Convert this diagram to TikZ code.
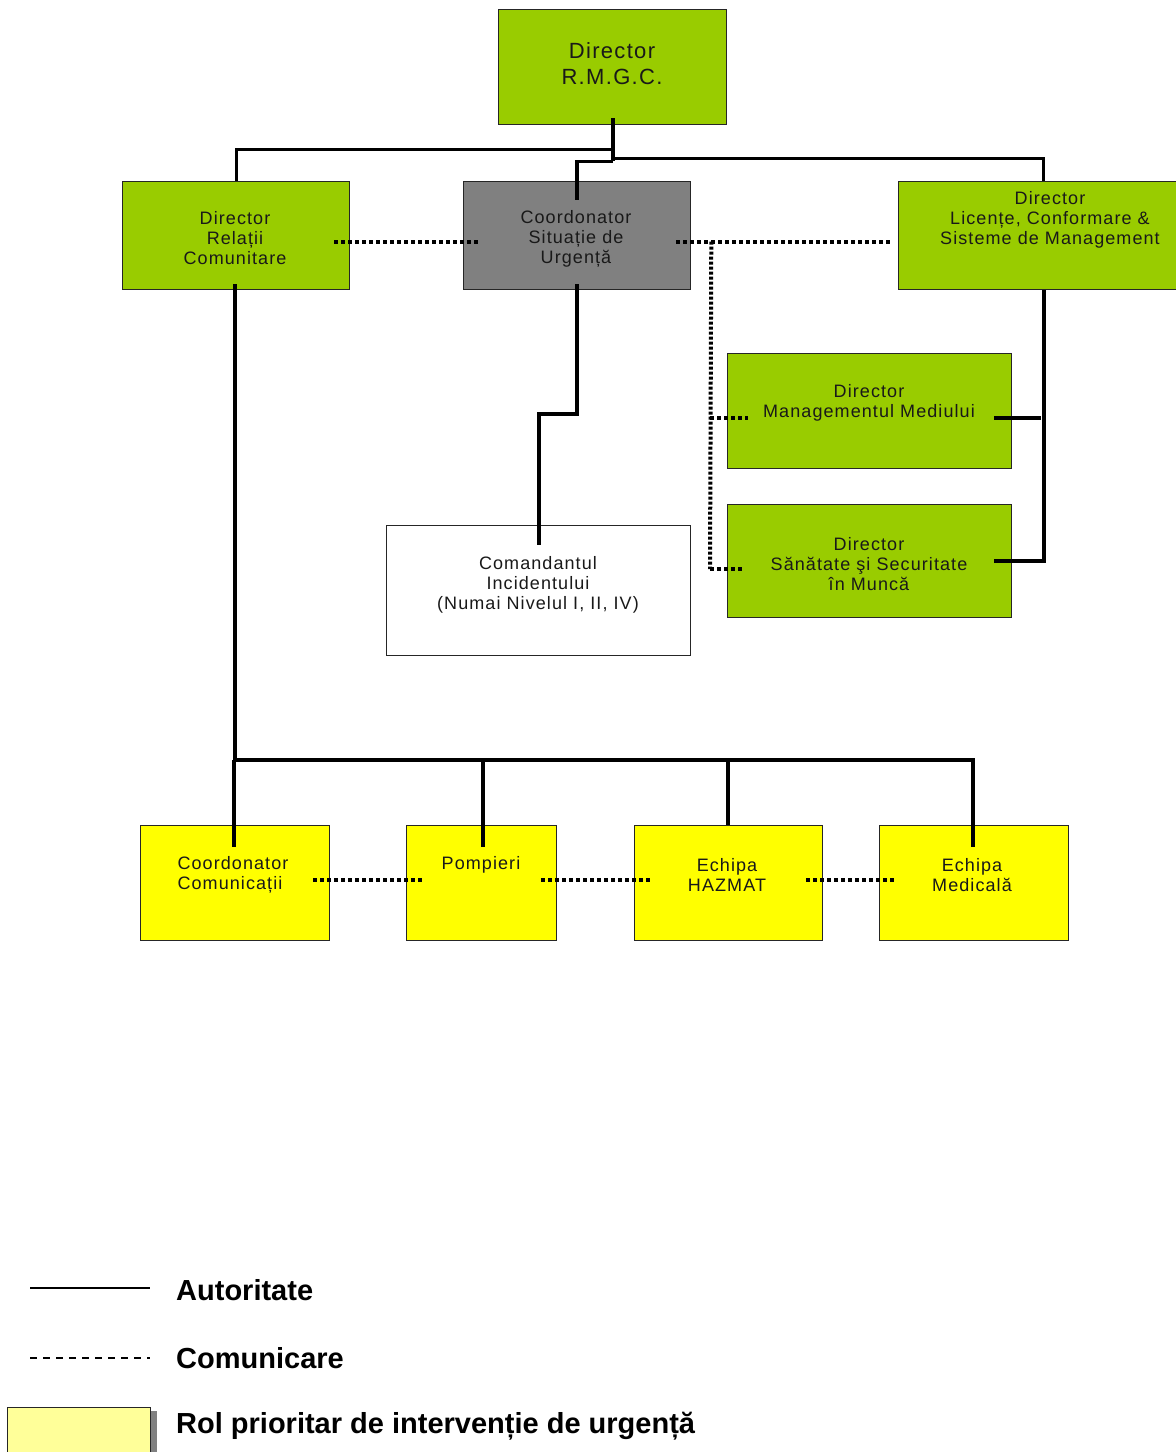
\documentclass[tikz,border=0pt]{standalone}
\usepackage{fontspec}
\setmainfont{Liberation Sans}
\newfontfamily\boxfont[LetterSpace=6]{Liberation Sans}
\definecolor{dirgreen}{HTML}{99CC00}
\definecolor{urggray}{HTML}{808080}
\definecolor{teamyellow}{HTML}{FFFF00}
\definecolor{legyellow}{HTML}{FFFF99}

\begin{document}
\begin{tikzpicture}[x=1pt,y=-1pt,
  box/.style={draw=black!85, line width=1.3pt, anchor=north west, inner sep=0pt},
  txt/.style={align=center, inner sep=0pt, text=black!90,
    font=\boxfont\fontsize{18}{20}\selectfont},
  auth/.style={line width=4pt},
  comm/.style={line width=4pt, dash pattern=on 3.5pt off 3.5pt},
  legtxt/.style={anchor=west, inner sep=0pt, font=\bfseries\fontsize{29}{32}\selectfont}]
  \useasboundingbox (0,0) rectangle (1176,1452);

  % boxes
  \node[box, fill=dirgreen, minimum width=228pt, minimum height=115pt] (rmgc) at (498,9) {};
  \node[box, fill=dirgreen, minimum width=227pt, minimum height=108pt] (rel) at (122,181) {};
  \node[box, fill=urggray, minimum width=227pt, minimum height=108pt] (csu) at (463,181) {};
  \node[box, fill=dirgreen, minimum width=284pt, minimum height=108pt] (lic) at (898,181) {};
  \node[box, fill=dirgreen, minimum width=284pt, minimum height=115pt] (mm) at (727,353) {};
  \node[box, fill=dirgreen, minimum width=284pt, minimum height=113pt] (ssm) at (727,504) {};
  \node[box, fill=white, minimum width=304pt, minimum height=130pt] (ci) at (386,525) {};
  \node[box, fill=teamyellow, minimum width=189pt, minimum height=115pt] (cc) at (140,825) {};
  \node[box, fill=teamyellow, minimum width=150pt, minimum height=115pt] (pomp) at (406,825) {};
  \node[box, fill=teamyellow, minimum width=188pt, minimum height=115pt] (hz) at (634,825) {};
  \node[box, fill=teamyellow, minimum width=189pt, minimum height=115pt] (med) at (879,825) {};

  % texts
  \node[txt, font=\boxfont\fontsize{22}{26}\selectfont] (t-rmgc) at (612,64) {Director\\R.M.G.C.};
  \node[txt] (t-rel) at (235,238) {Director\\Relații\\Comunitare};
  \node[txt] (t-csu) at (576,239) {Coordonator\\Situație de\\Urgență};
  \node[txt] (t-lic) at (1050,220) {Director\\Licențe, Conformare \&\\Sisteme de Management};
  \node[txt] (t-mm) at (869,403) {Director\\Managementul Mediului};
  \node[txt] (t-ssm) at (869,564) {Director\\Sănătate şi Securitate\\în Muncă};
  \node[txt] (t-ci) at (538,585) {Comandantul\\Incidentului\\(Numai Nivelul I, II, IV)};
  \node[txt, align=left] (t-cc) at (233,875) {Coordonator\\Comunicații};
  \node[txt] (t-pomp) at (481,865) {Pompieri};
  \node[txt] (t-hz) at (727,875) {Echipa\\HAZMAT};
  \node[txt] (t-med) at (972,875) {Echipa\\Medicală};

  % autoritate
  \draw[auth] ([yshift=7pt]rmgc.south) -- ++(0,43);
  \draw[auth, line width=3pt] ([shift={(0,24)}]rmgc.south) -| (rel.north);
  \draw[auth, line width=3pt] ([shift={(0,33)}]rmgc.south) -| ([xshift=3pt]lic.north);
  \draw[auth, line width=3.5pt] ([shift={(0,36)}]rmgc.south) -| ([yshift=-19pt]csu.north);
  \draw[auth] ([shift={(-1,-6)}]rel.south) |- ([shift={(-1,-65)}]med.north) -- ([shift={(-1,22)}]med.north);
  \draw[auth] ([shift={(1,-65)}]pomp.north) -- ([shift={(1,22)}]pomp.north);
  \draw[auth] ([shift={(-1,-65)}]hz.north) -- ([xshift=-1pt]hz.north);
  \draw[auth] ([shift={(-1,-65)}]cc.north) -- ([shift={(-1,22)}]cc.north);
  \draw[auth] ([yshift=6pt]csu.south) |- ([yshift=111pt]ci.north) -- ([yshift=-20pt]ci.north);
  \draw[auth] ([xshift=3pt]lic.south) |- ([xshift=-18pt]ssm.east);
  \draw[auth] ([shift={(-18,7)}]mm.east) -- ++(47,0);

  % comunicare
  \draw[comm] ([shift={(-16,6)}]rel.east) -- ([shift={(15,6)}]csu.west);
  \draw[comm] ([shift={(-15,6)}]csu.east) -- ([shift={(-5,6)}]lic.west);
  \draw[comm, dash pattern=on 3pt off 2pt] ([shift={(20,6)}]csu.east) -- ([shift={(-17,8)}]ssm.west);
  \draw[comm] ([shift={(-17,8)}]ssm.west) -- ([shift={(15,8)}]ssm.west);
  \draw[comm] ([shift={(-17,7)}]mm.west) -- ([shift={(21,7)}]mm.west);
  \draw[comm] ([shift={(-17,-3)}]cc.east) -- ([shift={(17,-3)}]pomp.west);
  \draw[comm] ([shift={(-16,-3)}]pomp.east) -- ([shift={(17,-3)}]hz.west);
  \draw[comm] ([shift={(-17,-3)}]hz.east) -- ([shift={(18,-3)}]med.west);

  % legenda
  \node[legtxt] (l-aut) at (176,1290) {Autoritate};
  \node[legtxt] (l-com) at (176,1358) {Comunicare};
  \node[legtxt] (l-rol) at (176,1426) {Rol prioritar de intervenție de urgență};
  \draw[line width=1.3pt] ([xshift=-146pt,yshift=2pt]l-aut.west) -- ([xshift=-26pt,yshift=2pt]l-aut.west);
  \draw[line width=1.3pt, dash pattern=on 7pt off 6pt] ([xshift=-146pt]l-com.west) -- ([xshift=-26pt]l-com.west);
  \fill[black!50] (150,1411) rectangle (157,1460);
  \node[box, fill=legyellow, line width=1.2pt, minimum width=143pt, minimum height=55pt] (l-box) at (7,1407) {};
\end{tikzpicture}
\end{document}
